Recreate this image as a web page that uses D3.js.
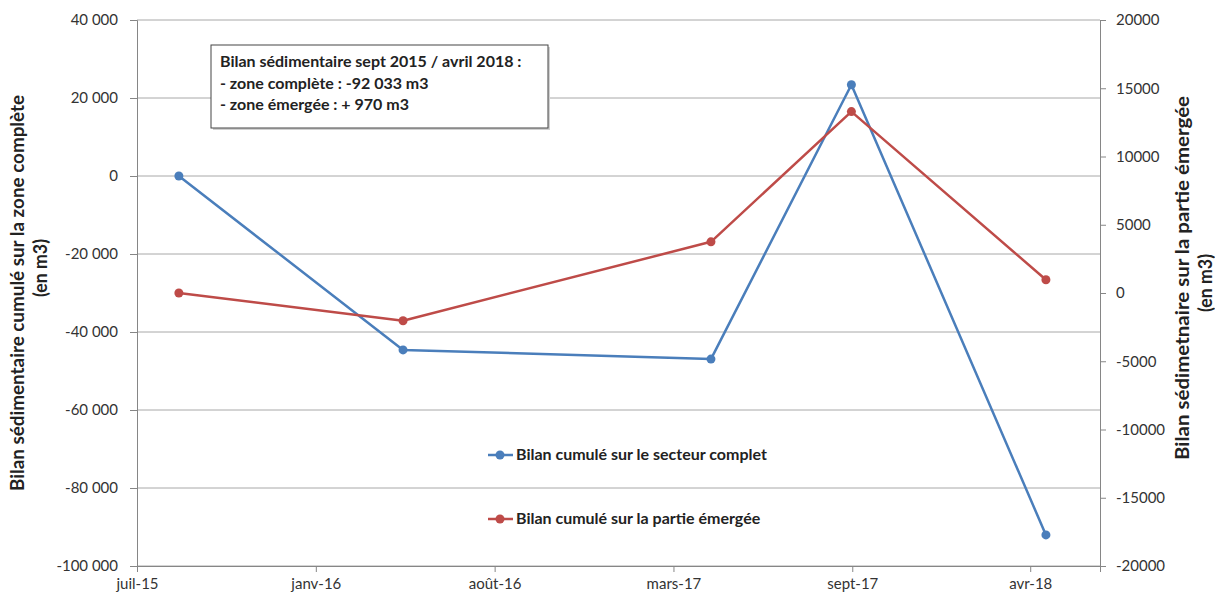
<!DOCTYPE html>
<html lang="fr">
<head>
    <meta charset="UTF-8">
    <title>Bilan sédimentaire</title>
    <script src="https://d3js.org/d3.v7.min.js"></script>
    <style>
        body { margin: 0; background: #fff; }
        svg text { font-family: Lato, "Open Sans", sans-serif; fill: #222; }
        .tick text { font-size: 15px; fill: #333; }
        .bold { font-weight: bold; }
    </style>
</head>
<body>
    <div id="chart"></div>

    <script>
        // Data
        const dates = ['2015-08-18', '2016-05-01', '2017-04-19', '2017-09-27', '2018-05-08'];
        const complet = [0, -44600, -46950, 23400, -92033];
        const emergee = [0, -2030, 3750, 13290, 970];

        const xTickDates = ['2015-07-01', '2016-01-22', '2016-08-14', '2017-03-07', '2017-09-28', '2018-04-20'];
        const xTickLabels = ['juil-15', 'janv-16', 'août-16', 'mars-17', 'sept-17', 'avr-18'];
        const xDomain = ['2015-07-01', '2018-07-09'];

        const leftTicks = [40000, 20000, 0, -20000, -40000, -60000, -80000, -100000];
        const rightTicks = [20000, 15000, 10000, 5000, 0, -5000, -10000, -15000, -20000];

        const legendLabels = ['Bilan cumulé sur le secteur complet', 'Bilan cumulé sur la partie émergée'];
        const noteLines = [
            'Bilan sédimentaire sept 2015 / avril 2018 :',
            '- zone complète : -92 033 m3',
            '- zone émergée : + 970 m3'
        ];

        const width = 1215, height = 597;
        const margin = { top: 20, right: 115, bottom: 31, left: 137 };
        const blue = '#4a7ebb', red = '#be4b48';

        const svg = d3.select('#chart').append('svg')
            .attr('width', width)
            .attr('height', height);

        const parse = d3.timeParse('%Y-%m-%d');

        const x = d3.scaleTime()
            .domain(xDomain.map(parse))
            .range([margin.left, width - margin.right]);

        const yLeft = d3.scaleLinear()
            .domain([-100000, 40000])
            .range([height - margin.bottom, margin.top]);

        const yRight = d3.scaleLinear()
            .domain([-20000, 20000])
            .range([height - margin.bottom, margin.top]);

        // horizontal gridlines (left axis)
        svg.append('g')
            .selectAll('line')
            .data(leftTicks)
            .enter()
            .append('line')
            .attr('x1', margin.left)
            .attr('x2', width - margin.right)
            .attr('y1', d => yLeft(d))
            .attr('y2', d => yLeft(d))
            .attr('stroke', '#a8a8a8')
            .attr('stroke-width', 1);

        const frmt = d => d3.format(',')(d).replace(/,/g, ' ').replace('−', '-');

        // left axis
        const gL = svg.append('g')
            .attr('transform', `translate(${margin.left},0)`)
            .call(d3.axisLeft(yLeft).tickValues(leftTicks).tickFormat(frmt).tickSize(7).tickPadding(12));

        // right axis
        const gR = svg.append('g')
            .attr('transform', `translate(${width - margin.right},0)`)
            .call(d3.axisRight(yRight).tickValues(rightTicks).tickFormat(d => String(d)).tickSize(6).tickPadding(10));

        // bottom axis
        const tickLookup = new Map(xTickDates.map((d, i) => [+parse(d), xTickLabels[i]]));
        const gB = svg.append('g')
            .attr('transform', `translate(0,${height - margin.bottom})`)
            .call(d3.axisBottom(x).tickValues(xTickDates.map(parse)).tickFormat(d => tickLookup.get(+d)).tickSize(6).tickPadding(6));

        [gL, gR, gB].forEach(g => {
            g.selectAll('.domain').attr('stroke', '#868686');
            g.selectAll('.tick line').attr('stroke', '#868686');
        });

        // series lines
        const seriesList = [
            { values: complet, scale: yLeft, color: blue },
            { values: emergee, scale: yRight, color: red }
        ];

        seriesList.forEach(s => {
            const pts = dates.map((d, i) => ({ date: parse(d), v: s.values[i] }));
            const line = d3.line()
                .x(d => x(d.date))
                .y(d => s.scale(d.v));
            svg.append('path')
                .datum(pts)
                .attr('d', line)
                .attr('fill', 'none')
                .attr('stroke', s.color)
                .attr('stroke-width', 2.5)
                .attr('stroke-linejoin', 'round');
            svg.append('g')
                .selectAll('circle')
                .data(pts)
                .enter()
                .append('circle')
                .attr('cx', d => x(d.date))
                .attr('cy', d => s.scale(d.v))
                .attr('r', 4.5)
                .attr('fill', s.color);
        });

        // axis titles
        const titles = [
            { text: 'Bilan sédimentaire cumulé sur la zone complète', x: 24, y: 293, len: 396 },
            { text: '(en m3)', x: 47, y: 268, len: 58 },
            { text: 'Bilan sédimetnaire sur la partie émergée', x: 1189, y: 278, len: 364 },
            { text: '(en m3)', x: 1212, y: 283, len: 58 }
        ];
        titles.forEach(t => {
            svg.append('text')
                .attr('class', 'bold')
                .attr('transform', `translate(${t.x},${t.y}) rotate(-90)`)
                .attr('text-anchor', 'middle')
                .attr('textLength', t.len)
                .attr('lengthAdjust', 'spacingAndGlyphs')
                .style('font-size', '18px')
                .text(t.text);
        });

        // annotation box
        const note = svg.append('g').attr('transform', 'translate(211,45)');
        note.append('rect')
            .attr('x', 2).attr('y', 2)
            .attr('width', 337).attr('height', 83)
            .attr('fill', '#d0d0d0');
        note.append('rect')
            .attr('width', 337).attr('height', 83)
            .attr('fill', '#fff')
            .attr('stroke', '#444')
            .attr('stroke-width', 1);
        note.selectAll('text')
            .data(noteLines)
            .enter()
            .append('text')
            .attr('class', 'bold')
            .attr('x', 9)
            .attr('y', (d, i) => 22 + i * 21.5)
            .style('font-size', '16px')
            .text(d => d);

        // legend
        const legendColors = [blue, red];
        const legend = svg.append('g');
        legendLabels.forEach((lab, i) => {
            const ly = 455 + i * 64;
            legend.append('line')
                .attr('x1', 488).attr('x2', 513)
                .attr('y1', ly).attr('y2', ly)
                .attr('stroke', legendColors[i])
                .attr('stroke-width', 2.5);
            legend.append('circle')
                .attr('cx', 500).attr('cy', ly).attr('r', 4.5)
                .attr('fill', legendColors[i]);
            legend.append('text')
                .attr('class', 'bold')
                .attr('x', 516).attr('y', ly + 5)
                .style('font-size', '16px')
                .text(lab);
        });
    </script>
</body>
</html>
